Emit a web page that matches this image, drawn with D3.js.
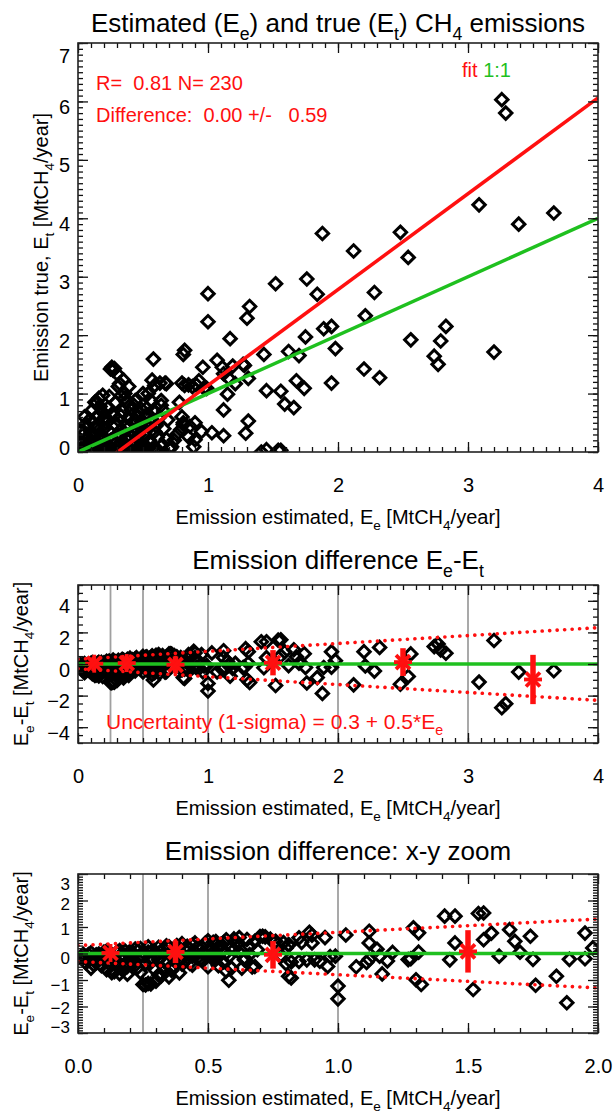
<!DOCTYPE html>
<html>
<head>
<meta charset="utf-8">
<script src="https://cdn.jsdelivr.net/npm/d3@7"></script>
<style>
body { margin: 0; background: #fff; }
svg text { font-family: "Liberation Sans", Arial, Helvetica, sans-serif; white-space: pre; }
</style>
</head>
<body>
<div id="chart"></div>
<script>

WIDTH = 614;
HEIGHT = 1114;

PLOT_LEFT = 78;
PLOT_RIGHT = 598;

RED = "#ff1010";
GREEN = "#1fc01f";


// estimated emission (x) and true emission, one entry per source (N = 230)

var estimated = [
    0.02,0.03,0.04,0.05,0.06,0.07,0.08,0.09,0.05,0.10,0.03,0.08,0.06,0.02,0.10,
    0.11,0.12,0.13,0.14,0.15,0.16,0.17,0.18,0.12,0.19,0.14,0.16,0.19,0.20,0.13,0.15,0.17,0.19,0.11,0.20,
    0.21,0.22,0.23,0.24,0.25,0.26,0.27,0.28,0.22,0.25,0.26,0.27,0.28,0.29,0.30,0.23,0.29,0.24,0.30,0.28,
    0.31,0.32,0.33,0.34,0.35,0.36,0.37,0.38,0.39,0.40,0.31,0.32,0.34,0.35,0.36,0.37,0.38,0.33,0.39,0.40,0.35,
    0.41,0.42,0.43,0.44,0.45,0.46,0.47,0.48,0.49,0.50,0.42,0.44,0.46,0.48,0.50,0.43,0.45,0.47,0.49,0.41,
    0.51,0.52,0.53,0.54,0.54,0.55,0.56,0.57,0.58,0.58,0.59,0.59,0.60,0.52,0.55,0.57,0.53,0.56,0.60,
    0.61,0.62,0.63,0.64,0.64,0.65,0.66,0.67,0.68,0.68,0.69,0.70,0.62,0.66,
    0.04,0.07,0.09,0.12,0.15,0.18,0.21,0.24,0.27,0.31,0.33,0.38,0.44,0.52,0.57,
    0.71,0.81,0.81,0.82,0.81,0.82,0.90,0.90,0.91,0.96,0.97,0.74,0.72,0.79,0.86,0.85,0.89,0.80,0.85,0.88,0.93,0.80,0.76,0.78,0.95,0.99,
    1.00,1.00,1.03,1.07,1.12,1.12,1.12,1.15,1.16,1.17,1.19,1.21,1.28,1.29,1.31,1.31,1.30,1.32,1.41,1.45,
    1.43,1.45,1.52,1.54,1.56,1.56,1.59,1.62,1.66,1.68,1.70,1.74,1.75,1.76,1.84,1.88,1.89,1.95,1.95,1.98,
    1.11,1.27,
    2.12,2.20,2.21,2.28,2.32,2.48,2.54,2.56,2.74,2.77,2.79,2.83,3.085,3.20,3.26,3.29,3.39,3.66
];

var true_emission = [
    0.05,0.15,0.30,0.02,0.22,0.42,0.10,0.55,0.60,0.32,0.38,0.25,0.48,0.20,0.05,
    0.72,0.15,0.85,0.40,0.62,0.05,0.78,0.30,0.50,0.55,0.83,0.92,0.97,0.12,0.28,0.45,0.22,0.68,0.02,0.40,
    0.60,0.05,0.75,0.35,1.42,1.45,1.40,1.43,0.50,0.20,0.65,0.02,0.48,0.85,0.30,0.12,0.15,0.95,1.34,0.62,
    1.12,1.17,0.96,0.05,1.23,0.92,0.86,0.40,1.12,0.80,0.55,0.25,0.70,0.10,1.00,0.45,0.20,0.62,0.58,0.03,0.35,
    0.72,0.15,0.50,0.88,0.05,0.62,0.30,0.75,0.10,1.00,0.35,0.55,0.22,0.45,0.02,0.80,0.40,0.68,0.52,0.25,
    0.30,0.60,0.08,1.00,0.64,0.42,0.15,1.23,1.59,0.70,1.14,0.35,0.05,0.48,0.20,0.55,0.75,0.88,0.45,
    0.25,0.58,1.18,0.88,0.80,0.12,0.40,1.18,1.17,0.22,0.55,0.06,0.02,0.70,
    0.08,0.12,0.20,0.06,0.10,0.08,0.18,0.05,0.22,0.08,0.15,0.08,0.12,0.10,0.05,
    0.06,0.47,0.50,1.14,1.67,1.74,0.21,0.50,1.15,1.45,1.09,0.20,0.09,0.38,0.44,0.26,0.09,1.18,1.15,1.12,1.22,0.60,0.30,0.85,0.35,1.09,
    2.23,2.71,0.33,1.57,0.28,0.72,1.34,0.99,1.26,1.94,1.47,1.17,1.48,0.32,0.53,1.26,2.29,2.49,0.00,0.04,
    1.67,1.05,2.88,0.03,0.03,1.04,0.82,1.72,0.76,1.22,1.65,1.09,1.97,2.96,2.70,3.74,2.11,1.18,2.15,1.77,
    1.45,1.50,
    3.44,1.42,2.33,2.73,1.27,3.76,3.33,1.92,1.64,1.50,1.90,2.15,4.23,1.71,6.03,5.80,3.90,4.09
];

// linear fit of true vs estimated
var fit_intercept = -0.50;
var fit_slope = 1.64;

// 1-sigma uncertainty = a + b * Ee
var sigma_const = 0.3;
var sigma_slope = 0.5;

// bins of estimated emission: edges, centres, mean and std of Ee-Et
var bin_edges = [0.25, 0.5, 1, 2, 3];
var bin_centre = [0.125, 0.375, 0.75, 1.5, 2.5, 3.5];
var bin_mean = [0.02, 0.06, -0.05, 0.08, 0.12, -0.98];
var bin_sigma = [0.18, 0.42, 0.52, 0.8, 0.88, 1.56];

// tick values
var x_ticks_full = [0, 1, 2, 3, 4];
var y_ticks_scatter = [0, 1, 2, 3, 4, 5, 6, 7];
var y_ticks_diff = [-4, -2, 0, 2, 4];
var x_ticks_zoom = [0, 0.5, 1, 1.5, 2];
var y_ticks_zoom = [-3, -2, -1, 0, 1, 2, 3];


var rows = estimated.map(function (e, i) {
    return { est: e, tru: true_emission[i], diff: e - true_emission[i] };
});


var svg = d3.select("#chart").append("svg")
    .attr("width", WIDTH)
    .attr("height", HEIGHT);

svg.append("rect")
    .attr("width", WIDTH)
    .attr("height", HEIGHT)
    .attr("fill", "white");


// text with subscripts: parts is a list of [string, is_subscript]

function rich_text(g, parts, fs) {
    var t = g.append("text").style("font-size", fs + "px");
    var shift = 0;
    parts.forEach(function (p) {
        var want = p[1] ? fs * 0.3 : 0;
        t.append("tspan")
            .attr("dy", want - shift)
            .style("font-size", (p[1] ? fs * 0.68 : fs) + "px")
            .text(p[0]);
        shift = want;
    });
    return t;
}


function steps(domain, step) {
    return d3.range(domain[0], domain[1] + step / 2, step)
        .map(function (v) { return +v.toFixed(4); });
}


function make_panel(p) {
    var x = d3.scaleLinear().domain(p.xdomain).range([PLOT_LEFT, PLOT_RIGHT]);
    var y = d3.scaleLinear().domain(p.ydomain).range([p.bottom, p.top]);

    svg.append("clipPath")
        .attr("id", "clip" + p.id)
        .append("rect")
        .attr("x", PLOT_LEFT)
        .attr("y", p.top)
        .attr("width", PLOT_RIGHT - PLOT_LEFT)
        .attr("height", p.bottom - p.top);

    var g = svg.append("g");
    var plot = g.append("g").attr("clip-path", "url(#clip" + p.id + ")");
    var frame = g.append("g");

    var xminor = steps(p.xdomain, p.xminor);
    var yminor = steps(p.ydomain, p.yminor);

    function strip(sel) {
        sel.select(".domain").remove();
        sel.selectAll("line").attr("stroke", "#111").attr("stroke-width", 1.3);
    }

    // minor ticks, all four sides
    frame.append("g").attr("transform", "translate(0," + p.bottom + ")")
        .call(d3.axisBottom(x).tickValues(xminor).tickSize(-5).tickFormat("")).call(strip);
    frame.append("g").attr("transform", "translate(0," + p.top + ")")
        .call(d3.axisTop(x).tickValues(xminor).tickSize(-5).tickFormat("")).call(strip);
    frame.append("g").attr("transform", "translate(" + PLOT_LEFT + ",0)")
        .call(d3.axisLeft(y).tickValues(yminor).tickSize(-5).tickFormat("")).call(strip);
    frame.append("g").attr("transform", "translate(" + PLOT_RIGHT + ",0)")
        .call(d3.axisRight(y).tickValues(yminor).tickSize(-5).tickFormat("")).call(strip);

    // major ticks
    var xb = frame.append("g").attr("transform", "translate(0," + p.bottom + ")")
        .call(d3.axisBottom(x).tickValues(p.xticks).tickSize(-10).tickSizeOuter(0)
              .tickPadding(26).tickFormat(d3.format(p.xfmt)))
        .call(strip);
    xb.selectAll("text").style("font-size", "20px").attr("fill", "#000");

    frame.append("g").attr("transform", "translate(0," + p.top + ")")
        .call(d3.axisTop(x).tickValues(p.xticks).tickSize(-10).tickFormat("")).call(strip);
    frame.append("g").attr("transform", "translate(" + PLOT_RIGHT + ",0)")
        .call(d3.axisRight(y).tickValues(p.yticks).tickSize(-10).tickFormat("")).call(strip);

    var yl = frame.append("g").attr("transform", "translate(" + PLOT_LEFT + ",0)")
        .call(d3.axisLeft(y).tickValues(p.yticks).tickSize(-10).tickSizeOuter(0)
              .tickPadding(8).tickFormat(d3.format("d")))
        .call(strip);
    yl.selectAll("text")
        .style("font-size", (p.ylabel_size || 20) + "px")
        .attr("fill", "#000")
        .attr("dy", null)
        .attr("dominant-baseline", "central")
        .attr("y", function (d) {
            var c = p.ylabel_pos ? p.ylabel_pos(d, y(d))
                : Math.max(p.top + 12, Math.min(p.bottom - 5, y(d) + 5));
            return c - y(d);
        });

    frame.append("rect")
        .attr("x", PLOT_LEFT)
        .attr("y", p.top)
        .attr("width", PLOT_RIGHT - PLOT_LEFT)
        .attr("height", p.bottom - p.top)
        .attr("fill", "none")
        .attr("stroke", "#222")
        .attr("stroke-width", 1.6);

    // titles
    rich_text(g, p.title, 26)
        .attr("x", (PLOT_LEFT + PLOT_RIGHT) / 2)
        .attr("y", p.top - p.title_gap)
        .attr("text-anchor", "middle");

    rich_text(g, [["Emission estimated, E", 0], ["e", 1], [" [MtCH", 0], ["4", 1], ["/year]", 0]], 20)
        .attr("x", (PLOT_LEFT + PLOT_RIGHT) / 2)
        .attr("y", p.bottom + 72)
        .attr("text-anchor", "middle");

    rich_text(g, p.ytitle, 20)
        .attr("text-anchor", "middle")
        .attr("transform", "translate(" + p.ytitle_x + "," + (p.top + p.bottom) / 2 + ") rotate(-90)");

    return { x: x, y: y, plot: plot, g: g };
}


function diamonds(panel, xv, yv) {
    panel.plot.append("g")
        .selectAll("path")
        .data(rows)
        .enter()
        .append("path")
        .attr("d", "M0,-6.2L6.2,0L0,6.2L-6.2,0Z")
        .attr("transform", function (d) {
            return "translate(" + panel.x(xv(d)) + "," + panel.y(yv(d)) + ")";
        })
        .attr("fill", "none")
        .attr("stroke", "#000")
        .attr("stroke-width", 3);
}


function diff_extras(panel, xmax) {
    var plot = panel.plot;

    plot.insert("g", ":first-child")
        .selectAll("line")
        .data(bin_edges)
        .enter()
        .append("line")
        .attr("x1", function (d) { return panel.x(d); })
        .attr("x2", function (d) { return panel.x(d); })
        .attr("y1", panel.y.range()[0])
        .attr("y2", panel.y.range()[1])
        .attr("stroke", "#a0a0a0")
        .attr("stroke-width", 1.8);

    var xs = steps([0, xmax], xmax / 40);

    [1, -1].forEach(function (sgn) {
        plot.append("path")
            .datum(xs)
            .attr("d", d3.line()
                  .x(function (d) { return panel.x(d); })
                  .y(function (d) { return panel.y(sgn * (sigma_const + sigma_slope * d)); }))
            .attr("fill", "none")
            .attr("stroke", RED)
            .attr("stroke-width", 3.6)
            .attr("stroke-linecap", "round")
            .attr("stroke-dasharray", "0.1 7.4");
    });

    plot.append("line")
        .attr("x1", panel.x(0))
        .attr("x2", panel.x(xmax))
        .attr("y1", panel.y(0))
        .attr("y2", panel.y(0))
        .attr("stroke", GREEN)
        .attr("stroke-width", 3.4);

    var bins = bin_centre.map(function (c, i) {
        return { c: c, m: bin_mean[i], s: bin_sigma[i] };
    });

    var b = plot.append("g").selectAll("g")
        .data(bins)
        .enter()
        .append("g")
        .attr("transform", function (d) {
            return "translate(" + panel.x(d.c) + "," + panel.y(d.m) + ")";
        });

    b.append("line")
        .attr("y1", function (d) { return panel.y(d.m - d.s) - panel.y(d.m); })
        .attr("y2", function (d) { return panel.y(d.m + d.s) - panel.y(d.m); })
        .attr("stroke", RED)
        .attr("stroke-width", 5.5);

    [[0, -9, 0, 9], [-9, 0, 9, 0], [-7, -7, 7, 7], [-7, 7, 7, -7]].forEach(function (s) {
        b.append("line")
            .attr("x1", s[0]).attr("y1", s[1])
            .attr("x2", s[2]).attr("y2", s[3])
            .attr("stroke", RED)
            .attr("stroke-width", 3.8);
    });
}


// ---- panel 1: scatter of true vs estimated

var p1 = make_panel({
    id: 1, top: 43, bottom: 452,
    xdomain: [0, 4], ydomain: [0, 7],
    xticks: x_ticks_full, yticks: y_ticks_scatter,
    xminor: 0.1, yminor: 0.1, xfmt: "d",
    title: [["Estimated (E", 0], ["e", 1], [") and true (E", 0], ["t", 1], [") CH", 0], ["4", 1], [" emissions", 0]],
    title_gap: 11,
    ytitle: [["Emission true, E", 0], ["t", 1], [" [MtCH", 0], ["4", 1], ["/year]", 0]],
    ytitle_x: 48
});

diamonds(p1, function (d) { return d.est; }, function (d) { return d.tru; });

p1.plot.append("path")
    .datum([0, 4])
    .attr("d", d3.line()
          .x(function (d) { return p1.x(d); })
          .y(function (d) { return p1.y(d); }))
    .attr("stroke", GREEN)
    .attr("stroke-width", 3.5);

p1.plot.append("path")
    .datum([0, 4])
    .attr("d", d3.line()
          .x(function (d) { return p1.x(d); })
          .y(function (d) { return p1.y(fit_intercept + fit_slope * d); }))
    .attr("stroke", RED)
    .attr("stroke-width", 3.5);

p1.g.append("text")
    .attr("x", 96).attr("y", 90)
    .attr("fill", RED)
    .style("font-size", "20px")
    .text("R=  0.81 N= 230");

p1.g.append("text")
    .attr("x", 96).attr("y", 122)
    .attr("fill", RED)
    .style("font-size", "20px")
    .text("Difference:  0.00 +/-   0.59");

var legend = p1.g.append("text")
    .attr("x", 462).attr("y", 77)
    .style("font-size", "20px");
legend.append("tspan").attr("fill", RED).text("fit ");
legend.append("tspan").attr("fill", GREEN).text("1:1");


// ---- panel 2: difference, full range

var p2 = make_panel({
    id: 2, top: 585, bottom: 743,
    xdomain: [0, 4], ydomain: [-5, 5],
    xticks: x_ticks_full, yticks: y_ticks_diff,
    xminor: 0.1, yminor: 0.5, xfmt: "d",
    title: [["Emission difference E", 0], ["e", 1], ["-E", 0], ["t", 1]],
    title_gap: 16,
    ytitle: [["E", 0], ["e", 1], ["-E", 0], ["t", 1], [" [MtCH", 0], ["4", 1], ["/year]", 0]],
    ytitle_x: 28
});

diamonds(p2, function (d) { return d.est; }, function (d) { return d.diff; });
diff_extras(p2, 4);

rich_text(p2.g, [["Uncertainty (1-sigma) = 0.3 + 0.5*E", 0], ["e", 1]], 21)
    .attr("x", 106)
    .attr("y", 729)
    .attr("fill", RED);


// ---- panel 3: difference, zoomed
// the end labels (3 and -3) are squeezed in next to their neighbours

var zoom_label_y = { "3": 884, "2": 904, "1": 929, "0": 958, "-1": 985, "-2": 1008, "-3": 1027 };

var p3 = make_panel({
    id: 3, top: 874, bottom: 1033,
    xdomain: [0, 2], ydomain: [-3, 3],
    xticks: x_ticks_zoom, yticks: y_ticks_zoom,
    xminor: 0.1, yminor: 0.1, xfmt: ".1f",
    ylabel_size: 17,
    ylabel_pos: function (d) { return zoom_label_y[d]; },
    title: [["Emission difference: x-y zoom", 0]],
    title_gap: 14,
    ytitle: [["E", 0], ["e", 1], ["-E", 0], ["t", 1], [" [MtCH", 0], ["4", 1], ["/year]", 0]],
    ytitle_x: 28
});

diamonds(p3, function (d) { return d.est; }, function (d) { return d.diff; });
diff_extras(p3, 2);

</script>
</body>
</html>
